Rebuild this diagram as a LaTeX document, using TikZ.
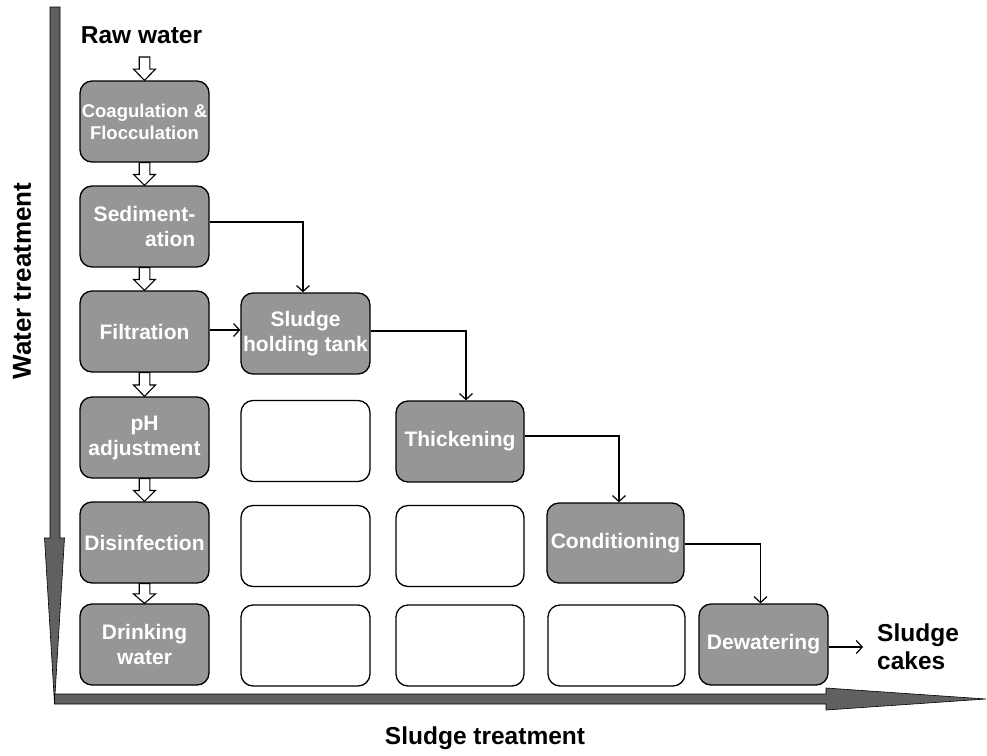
\documentclass[tikz,border=0pt]{standalone}
\usepackage{fontspec}
\setmainfont{Liberation Sans}
\usetikzlibrary{arrows.meta,calc}
\definecolor{boxgray}{HTML}{969696}
\definecolor{axisgray}{HTML}{606060}
\newcommand\blockarr[2]{%
  \path (#1) coordinate (baA) (#2) coordinate (baB);
  \draw[hollow] let \p1=(baA), \p2=(baB), \n1={0.48*\y1+0.52*\y2} in
   (\x1-5.3pt,\y1) -- (\x1+5.3pt,\y1) -- (\x1+5.3pt,\n1) -- (\x1+11pt,\n1) --
   (\x1,\y2) -- (\x1-11pt,\n1) -- (\x1-5.3pt,\n1) -- cycle;}
\begin{document}
\begin{tikzpicture}[x=1pt,y=-1pt,
 proc/.style={draw=black, line width=1.3pt, rounded corners=12pt, fill=boxgray,
   minimum width=129pt, minimum height=81pt, text=white,
   font=\bfseries\fontsize{21}{25}\selectfont, align=center, inner sep=0pt},
 emptybox/.style={draw=black, line width=1.3pt, rounded corners=12pt, fill=white,
   minimum width=129pt, minimum height=81pt},
 conn/.style={line width=1.2pt, -{Straight Barb[length=6pt,width=13pt]}},
 hollow/.style={draw=black, line width=1.1pt, fill=white, line join=miter},
 axis/.style={draw=black, line width=0.6pt, fill=axisgray},
 lbl/.style={font=\bfseries\fontsize{24.5}{28}\selectfont, text=black, inner sep=0pt}]
\useasboundingbox (0,0) rectangle (987,755);

% axes
\draw[axis] (50,7) -- (60,7) -- (60,538) -- (64.5,538) -- (54.5,703) -- (44.5,538) -- (50,538) -- cycle;
\draw[axis] (54.5,694) -- (826,694) -- (826,688) -- (986,699) -- (826,710) -- (826,704) -- (54.5,704) -- cycle;

% labels
\node[lbl, anchor=base] (raw) at (141.5,43) {Raw water};
\node[lbl, rotate=90, font=\bfseries\fontsize{26}{30}\selectfont] (wt) at (22,281) {Water treatment};
\node[lbl, anchor=base] (st) at (485,744) {Sludge treatment};
\node[lbl, anchor=north west, align=left] (cakes) at (877,624) {Sludge\\cakes};

% water treatment column
\node[proc, font=\bfseries\fontsize{18.5}{22}\selectfont] (coag) at (144.5,121.5) {Coagulation \&\\Flocculation};
\node[proc, align=right] (sed) at (144.5,226.5) {Sediment-\\ation};
\node[proc] (filt) at (144.5,331.5) {Filtration};
\node[proc] (ph) at (144.5,437.5) {pH\\adjustment};
\node[proc] (dis) at (144.5,542.5) {Disinfection};
\node[proc] (drink) at (144.5,644.5) {Drinking\\water};

% sludge treatment
\node[proc] (tank) at (305.5,333.5) {Sludge\\holding tank};
\node[proc, minimum width=128pt] (thick) at (460,441.5) {Thickening};
\node[proc, minimum width=137pt, minimum height=80pt] (cond) at (615.5,543) {Conditioning};
\node[proc] (dew) at (763.5,644.5) {Dewatering};

% empty boxes
\node[emptybox] (e1) at (305.5,441) {};
\node[emptybox] (e2) at (305.5,546) {};
\node[emptybox] (e3) at (305.5,645.5) {};
\node[emptybox, minimum width=128pt] (e4) at (460,546) {};
\node[emptybox, minimum width=128pt] (e5) at (460,645.5) {};
\node[emptybox, minimum width=137pt] (e6) at (616.5,645.5) {};

% hollow arrows
\coordinate (rawtop) at (144.5,57);
\blockarr{rawtop}{coag.north}
\blockarr{coag.south}{sed.north}
\blockarr{sed.south}{filt.north}
\blockarr{filt.south}{ph.north}
\blockarr{ph.south}{dis.north}
\blockarr{dis.south}{drink.north}

% sludge connectors
\draw[conn] ($(sed.east)+(0,-4.5)$) -| ($(tank.north)+(-2.5,0)$);
\draw[conn] ($(filt.east)+(0,-1.5)$) -- ($(filt.east -| tank.west)+(0,-1.5)$);
\draw[conn] ($(tank.east)+(0,-2.5)$) -| ($(thick.north)+(6,0)$);
\draw[conn] ($(thick.east)+(0,-5.5)$) -| ($(cond.north)+(3.5,0)$);
\draw[conn] ($(cond.east)+(0,1)$) -| ($(dew.north)+(-3,0)$);
\coordinate (cakesin) at (863,647);
\draw[conn] ($(dew.east)+(0,2.5)$) -- (cakesin);
\end{tikzpicture}
\end{document}
